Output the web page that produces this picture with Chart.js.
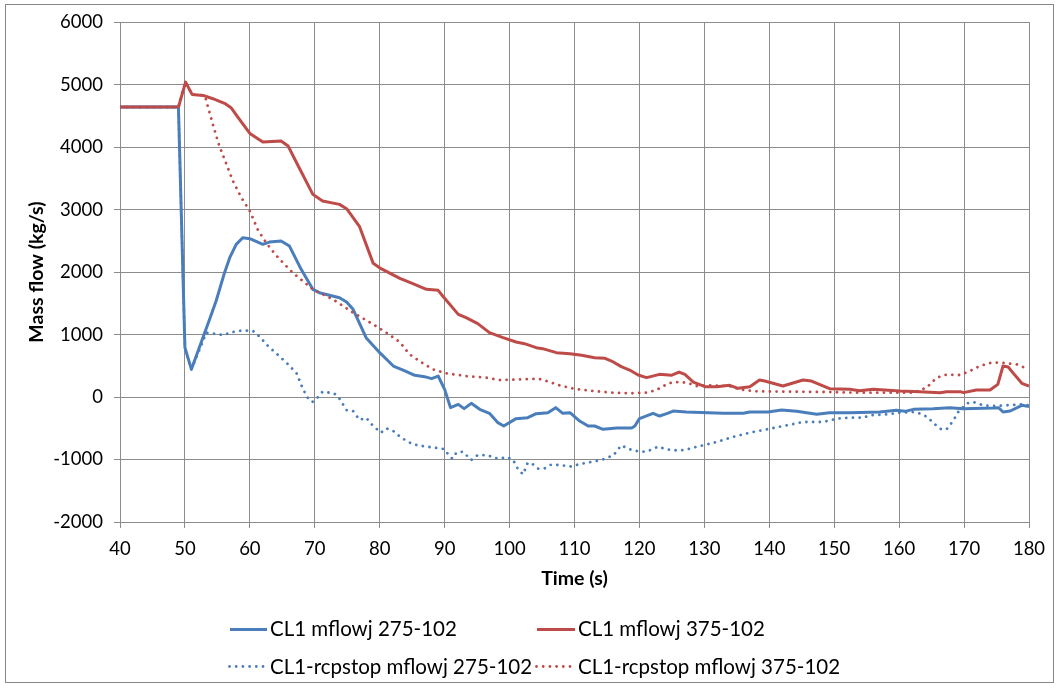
<!DOCTYPE html>
<html>
<head>
<meta charset="utf-8">
<script src="https://cdn.jsdelivr.net/npm/chart.js@4.4.1/dist/chart.umd.min.js"></script>
<style>
    body { margin: 0; background: #fff; }
    #wrap { position: relative; width: 1060px; height: 688px; overflow: hidden; font-family: Lato, 'Liberation Sans', sans-serif; }
    #frame { position: absolute; left: 5px; top: 4px; width: 1049px; height: 679px; border: 1px solid #888; box-sizing: border-box; }
    canvas { position: absolute; left: 0; top: 0; }
    .lg-text { position: absolute; font-size: 20.5px; line-height: 24px; color: #000; white-space: nowrap; }
    .lg-line { position: absolute; }
</style>
</head>
<body>
<div id="wrap">
    <div id="frame"></div>
    <canvas id="flow-chart" width="1060" height="688"></canvas>

    <svg class="lg-line" style="left:229px; top:626px" width="40" height="7"><line x1="1" y1="3.5" x2="38" y2="3.5" stroke="#4a7ebb" stroke-width="3"/></svg>
    <div class="lg-text" style="left:270px; top:616px">CL1 mflowj 275-102</div>
    <svg class="lg-line" style="left:536px; top:626px" width="42" height="7"><line x1="1" y1="3.5" x2="39" y2="3.5" stroke="#be4b48" stroke-width="3"/></svg>
    <div class="lg-text" style="left:578px; top:616px">CL1 mflowj 375-102</div>

    <svg class="lg-line" style="left:228px; top:663px" width="40" height="7"><line x1="1.5" y1="3.5" x2="36" y2="3.5" stroke="#4a7ebb" stroke-width="2.8" stroke-linecap="round" stroke-dasharray="0 6.7"/></svg>
    <div class="lg-text" style="left:270px; top:654px">CL1-rcpstop mflowj 275-102</div>
    <svg class="lg-line" style="left:535px; top:663px" width="40" height="7"><line x1="1.5" y1="3.5" x2="36" y2="3.5" stroke="#be4b48" stroke-width="2.8" stroke-linecap="round" stroke-dasharray="0 6.7"/></svg>
    <div class="lg-text" style="left:578px; top:654px">CL1-rcpstop mflowj 375-102</div>
</div>

<script>
// Time (s) and mass flow (kg/s)
const tBlue = [40, 49, 50, 51, 53.8, 54.8, 56.1, 56.9, 57.9, 58.9, 60, 62, 63, 64.8, 66.1, 67.9, 69.7, 70.7, 73.8, 74.9,
    75.9, 77.9, 80, 82.1, 83.6, 85.4, 86.9, 88, 89, 90, 90.9, 92.1, 93, 94.1, 95.4, 96.9, 98.2, 99.1, 101, 102.8,
    104.1, 105.9, 107.1, 108.2, 109.3, 110.8, 112.1, 113.1, 114.4, 116.5, 118.8, 119.3, 120, 122.1, 123.1, 124.2, 125.2, 127.2, 132.9, 136,
    137, 139.8, 141.9, 144.2, 147.3, 149.3, 152.4, 157, 159.6, 160.9, 162.2, 165.2, 167.8, 169.9, 174.5, 175.3, 176, 177.1, 178.9, 180];
const flowBlue = [4640, 4640, 790, 443, 1243, 1537, 1990, 2230, 2443, 2550, 2534, 2443, 2480, 2496, 2416, 2043, 1723, 1670, 1590, 1520,
    1403, 950, 710, 496, 432, 347, 326, 294, 336, 123, -170, -117, -186, -101, -197, -261, -410, -464, -346, -330,
    -266, -250, -170, -261, -250, -384, -464, -464, -517, -496, -496, -464, -346, -261, -304, -266, -224, -240, -261, -261,
    -240, -240, -208, -229, -277, -250, -250, -240, -213, -229, -197, -186, -170, -186, -176, -170, -240, -224, -133, -154];

const tRed = [40, 49, 50.1, 51.1, 52.8, 54.3, 56.1, 57.1, 58.2, 60, 62, 64.8, 65.9, 67.2, 69.7, 71.2, 73.8, 74.9, 76.9, 79,
    80.2, 83.1, 85.1, 87.2, 89, 89.7, 92.1, 93.3, 95.1, 96.9, 99, 101, 102.3, 104.1, 105.1, 107.2, 109.3, 111.1, 113.1, 114.7,
    115.7, 117.2, 118.5, 119.8, 121.1, 123.1, 124.9, 126.1, 127, 128.3, 130.1, 131.9, 133.9, 135.2, 137, 138.5, 139.3, 142.1, 145.2, 146.5,
    149.3, 152.4, 153.9, 156, 160.1, 163.2, 166.3, 167.3, 169.4, 169.9, 171.9, 174, 175.2, 176, 176.8, 177.6, 178.9, 180];
const flowRed = [4640, 4640, 5040, 4843, 4827, 4774, 4700, 4630, 4470, 4219, 4080, 4096, 4016, 3750, 3243, 3136, 3083, 3014, 2726, 2139,
    2054, 1900, 1815, 1723, 1707, 1616, 1323, 1270, 1174, 1030, 950, 880, 854, 790, 774, 710, 694, 667, 630, 619,
    576, 486, 432, 352, 310, 363, 347, 400, 363, 240, 166, 166, 187, 139, 166, 272, 256, 176, 272, 256,
    134, 123, 102, 123, 96, 86, 70, 86, 86, 70, 112, 112, 203, 496, 480, 379, 219, 176];

const tBlueStop = [40, 49, 50, 51, 53.3, 54.6, 55.8, 57.4, 58.9, 60.5, 61.5, 62.8, 64.4, 65.9, 67.2, 68.2, 68.9, 69.6, 70.2, 71.2,
    73, 73.8, 74.9, 75.9, 76.9, 77.9, 79, 80.2, 81, 82.1, 83.3, 85.1, 87.2, 89, 90, 90.8, 91.2, 91.8, 92.8, 94.1,
    95.1, 96.7, 97.7, 98.5, 99.5, 100.5, 101.3, 102.1, 102.8, 103.6, 104.4, 105.4, 106.4, 108.2, 109.3, 111.1, 112.9, 114.4, 116, 117.2,
    118.5, 120, 121.1, 122.9, 124.2, 125.7, 127, 128.3, 129.8, 131.9, 134, 137, 139.6, 142.7, 145.2, 148.3, 150.4, 152.4, 154.5, 155.5,
    158.1, 160.1, 162.2, 163.7, 164.7, 165.8, 166.5, 167.3, 168.3, 169.1, 170.4, 171.4, 173, 174.5, 176.5, 179.1, 180];
const flowBlueStop = [4640, 4640, 790, 443, 1030, 1014, 992, 1040, 1067, 1056, 966, 816, 667, 523, 379, 123, -10, -80, -37, 86,
    59, -26, -208, -224, -368, -330, -464, -570, -501, -544, -650, -757, -794, -816, -837, -954, -986, -890, -874, -1008,
    -928, -933, -976, -986, -960, -997, -1157, -1237, -1050, -1077, -1146, -1141, -1082, -1093, -1114, -1066, -1034, -997, -933, -773,
    -837, -874, -874, -794, -837, -853, -848, -810, -773, -720, -650, -570, -517, -453, -400, -400, -346, -330, -330, -293,
    -277, -250, -240, -277, -357, -464, -517, -517, -384, -240, -101, -80, -133, -144, -133, -117, -133];

const tRedStop = [40, 49, 50.1, 51.1, 52.8, 53.2, 54.3, 55.3, 56.4, 57.4, 58.7, 60, 61.2, 62.5, 63.5, 64.6, 66.6, 69.7, 72.8, 75.9,
    79, 81, 83.1, 84.6, 86.1, 88.2, 90.3, 93.3, 96.4, 98.5, 102.1, 104.4, 105.7, 107.7, 109.8, 112.9, 116, 118.5, 121.1, 122.6,
    124.2, 125.2, 127.3, 128.8, 130.8, 133.9, 135.4, 137.8, 142.6, 149, 153, 158, 162.2, 164.2, 165.8, 167.3, 169.4, 170.9, 172.4, 174.2,
    175.8, 178.1, 180];
const flowRedStop = [4640, 4640, 5040, 4843, 4827, 4774, 4363, 4016, 3723, 3456, 3190, 2976, 2683, 2470, 2336, 2203, 1990, 1723, 1563, 1350,
    1163, 1030, 880, 683, 576, 443, 379, 336, 310, 272, 283, 294, 256, 187, 134, 96, 70, 59, 70, 112,
    203, 240, 230, 176, 187, 176, 123, 91, 86, 80, 70, 70, 70, 150, 310, 358, 352, 416, 496, 550,
    550, 523, 443];

const blue = '#4a7ebb';
const red = '#be4b48';
const gridColor = '#8c8c8c';

function toPoints(times, values) {
    return times.map((t, i) => ({ x: t, y: values[i] }));
}

function lineSet(label, times, values, color, dotted, order) {
    return {
        label: label,
        data: toPoints(times, values),
        borderColor: color,
        backgroundColor: color,
        borderWidth: dotted ? 2.8 : 3,
        borderDash: dotted ? [0.01, 6.7] : [],
        borderCapStyle: dotted ? 'round' : 'butt',
        borderJoinStyle: 'round',
        pointRadius: 0,
        tension: 0,
        fill: false,
        order: order
    };
}

function createFlowChart() {
    const ctx = document.getElementById('flow-chart').getContext('2d');
    const tickFont = { family: 'Lato', size: 18.5 };
    const titleFont = { family: 'Lato', size: 19.5, weight: 'bold' };

    window.flowChart = new Chart(ctx, {
        type: 'line',
        data: {
            datasets: [
                lineSet('CL1 mflowj 275-102', tBlue, flowBlue, blue, false, 3),
                lineSet('CL1 mflowj 375-102', tRed, flowRed, red, false, 2),
                lineSet('CL1-rcpstop mflowj 275-102', tBlueStop, flowBlueStop, blue, true, 1),
                lineSet('CL1-rcpstop mflowj 375-102', tRedStop, flowRedStop, red, true, 0)
            ]
        },
        options: {
            responsive: false,
            animation: false,
            layout: { padding: { top: 22, right: 31, bottom: 98, left: 0 } },
            plugins: {
                legend: { display: false },
                tooltip: { enabled: false }
            },
            scales: {
                x: {
                    type: 'linear',
                    min: 40,
                    max: 180,
                    ticks: { stepSize: 10, padding: 10, color: '#000', font: tickFont, maxRotation: 0, callback: v => String(v) },
                    grid: { color: gridColor, tickLength: 6, lineWidth: 1 },
                    border: { color: gridColor },
                    title: { display: true, text: 'Time (s)', color: '#000', font: titleFont, padding: { top: 0, bottom: 0 } },
                    afterFit: scale => { scale.height = 68; }
                },
                y: {
                    min: -2000,
                    max: 6000,
                    ticks: { stepSize: 1000, padding: 11, color: '#000', font: tickFont, callback: v => String(v) },
                    grid: { color: gridColor, tickLength: 6, lineWidth: 1 },
                    border: { color: gridColor },
                    title: { display: true, text: 'Mass flow (kg/s)', color: '#000', font: titleFont, padding: { top: 25, bottom: 0 } },
                    afterFit: scale => { scale.width = 120; }
                }
            }
        }
    });
}

document.addEventListener('DOMContentLoaded', () => {
    document.fonts.load('bold 19px Lato').then(() => document.fonts.load('18px Lato')).then(createFlowChart, createFlowChart);
});
</script>
</body>
</html>
